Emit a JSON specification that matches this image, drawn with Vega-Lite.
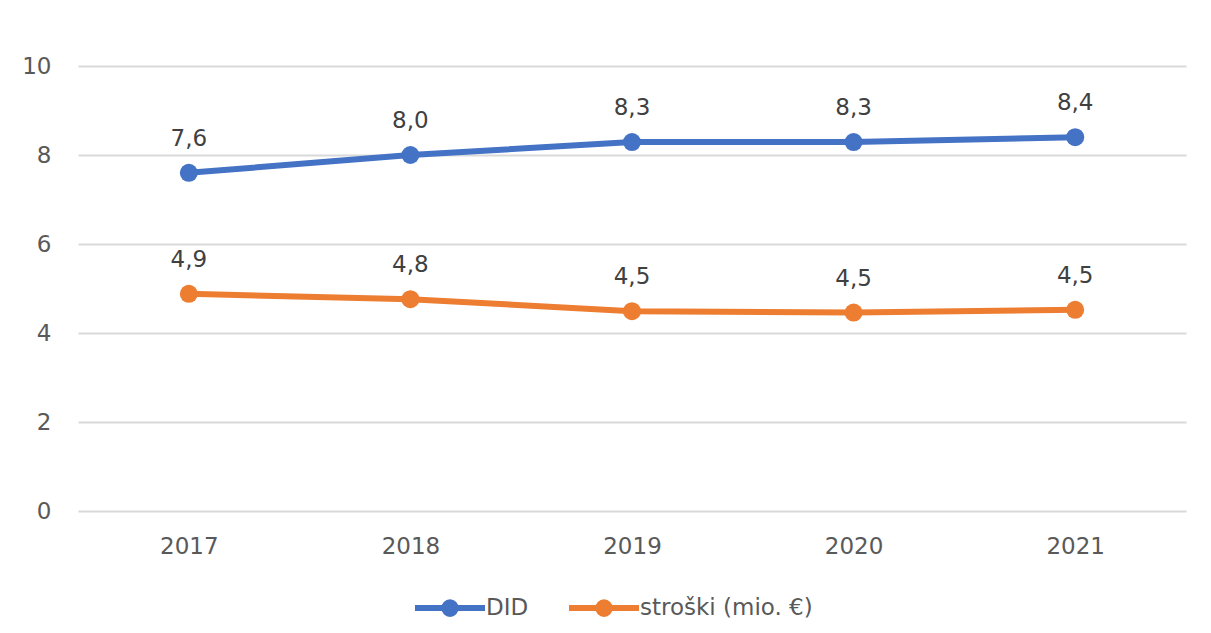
{
  "$schema": "https://vega.github.io/schema/vega-lite/v6.json",
  "width": 1108,
  "height": 445,
  "autosize": "none",
  "padding": {"left": 78, "top": 66, "right": 25, "bottom": 122},
  "background": "white",
  "config": {
    "view": {"stroke": null},
    "font": "DejaVu Sans",
    "locale": {"number": {"decimal": ",", "thousands": ".", "grouping": [3], "currency": ["", " €"]}}
  },
  "data": {
    "values": [
      {"year": "2017", "series": "DID", "value": 7.6},
      {"year": "2018", "series": "DID", "value": 8.0},
      {"year": "2019", "series": "DID", "value": 8.29},
      {"year": "2020", "series": "DID", "value": 8.29},
      {"year": "2021", "series": "DID", "value": 8.4},
      {"year": "2017", "series": "stroški (mio. €)", "value": 4.88},
      {"year": "2018", "series": "stroški (mio. €)", "value": 4.76},
      {"year": "2019", "series": "stroški (mio. €)", "value": 4.49},
      {"year": "2020", "series": "stroški (mio. €)", "value": 4.46},
      {"year": "2021", "series": "stroški (mio. €)", "value": 4.52}
    ]
  },
  "encoding": {
    "x": {
      "field": "year", "type": "ordinal",
      "scale": {"type": "point", "padding": 0.5},
      "axis": {"title": null, "domain": false, "ticks": false, "labelAngle": 0, "labelFontSize": 23, "labelColor": "#595959", "labelPadding": 24}
    },
    "y": {
      "field": "value", "type": "quantitative",
      "scale": {"domain": [0, 10], "nice": false},
      "axis": {"title": null, "values": [0, 2, 4, 6, 8, 10], "domain": false, "ticks": false, "gridColor": "#d9d9d9", "gridWidth": 2, "labelFontSize": 23, "labelColor": "#595959", "labelPadding": 27}
    },
    "color": {
      "field": "series", "type": "nominal",
      "scale": {"domain": ["DID", "stroški (mio. €)"], "range": ["#4472c4", "#ed7d31"]},
      "legend": {
        "title": null, "orient": "none", "direction": "horizontal",
        "legendX": 360, "legendY": 530,
        "symbolType": "M-4,0L4,0M-0.66,0A0.66,0.66 0 1 1 0.66,0A0.66,0.66 0 1 1 -0.66,0Z",
        "symbolSize": 306, "symbolStrokeWidth": 6, "symbolFillColor": null,
        "labelFontSize": 23, "labelColor": "#595959", "labelOffset": 24, "labelLimit": 400, "columnPadding": 28
      }
    }
  },
  "layer": [
    {
      "mark": {"type": "line", "strokeWidth": 6, "point": {"filled": true, "size": 324}}
    },
    {
      "mark": {"type": "text", "dy": -27, "baseline": "alphabetic", "fontSize": 23, "color": "#404040"},
      "encoding": {
        "text": {"field": "value", "type": "quantitative", "format": ".1f"},
        "color": {"value": "#404040"}
      }
    }
  ]
}
